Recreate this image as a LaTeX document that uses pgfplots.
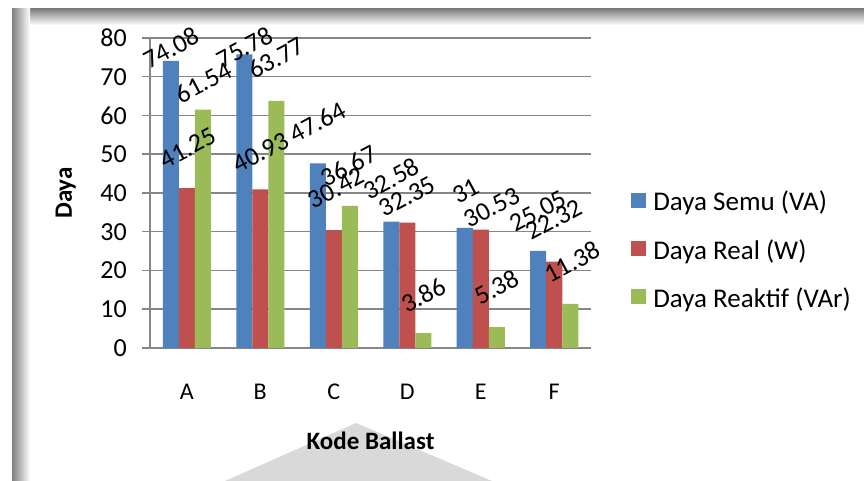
\documentclass[border=0pt]{standalone}
\usepackage{fontspec}
\setmainfont{Carlito}
\usepackage{pgfplots}
\pgfplotsset{compat=1.18}
\usepackage{pgfplotstable}

\definecolor{semu}{RGB}{79,129,189}
\definecolor{real}{RGB}{192,80,77}
\definecolor{reaktif}{RGB}{155,187,89}
\definecolor{gridgray}{RGB}{134,134,134}
\definecolor{wedge}{RGB}{217,217,217}
\definecolor{edgegray}{RGB}{128,128,128}

% power per ballast code; dx/dy are the label offsets (pt) from the bar top
\pgfplotstableread{
x semu  real  reaktif dxs dys dxr dyr dxk dyk
0 74.08 41.25 61.54   0.5 13  1   40  1   27
1 75.78 40.93 63.77   0.5 7   0.5 37  0   43
2 47.64 30.42 36.67   0   41  2.5 42  -1  40
3 32.58 32.35 3.86    0   43  0   26  0   38
4 31    30.53 5.38    1   37  11  22  0   40
5 25.05 22.32 11.38   0   40  0   42  2   42
}\ballast

\newcommand{\tickf}{\fontsize{26}{30}\selectfont}
\newcommand{\xtickf}{\fontsize{24}{28}\selectfont}
\newcommand{\legf}{\fontsize{27}{32}\selectfont}
\newcommand{\titf}{\fontsize{25}{30}\selectfont}
\newcommand{\lblf}{\fontsize{26}{30}\selectfont}

\begin{document}
\begin{tikzpicture}[x=1pt,y=1pt]
\useasboundingbox (0,0) rectangle (864,481);
\fill[white] (0,0) rectangle (864,481);
% frame shading along the top and left edges
\shade[top color=edgegray, bottom color=white] (12,456) rectangle (864,472);
\shade[left color=edgegray, right color=white] (12,0) rectangle (30,472);
\fill[white] (30,0) rectangle (864,456);
% light wedge behind the axis title
\fill[wedge] (225,0) -- (356,58) -- (492,0) -- cycle;

\begin{axis}[
  at={(150pt,133pt)}, anchor=south west,
  width=441pt, height=310pt, scale only axis,
  xmin=-0.5, xmax=5.5, ymin=0, ymax=80,
  ybar=0pt, bar width=16pt,
  xtick=data, xticklabels={A,B,C,D,E,F},
  ytick={0,10,...,80},
  axis x line*=bottom, axis y line*=left,
  axis line style={gridgray, line width=1.5pt},
  ymajorgrids, grid style={gridgray, line width=1.5pt},
  ytick style={gridgray, line width=1.5pt},
  xtick style={draw=none},
  tick align=outside, major tick length=8pt,
  /pgf/number format/assume math mode=true,
  yticklabel={\tickf\pgfmathprintnumber{\tick}},
  yticklabel style={anchor=east, inner sep=0pt, xshift=-15pt},
  xticklabel style={anchor=base, inner sep=0pt, yshift=-44pt, font=\xtickf},
  xlabel={\textbf{Kode Ballast}},
  xlabel style={at={(axis description cs:0.5,-0.329)}, anchor=base, font=\titf},
  ylabel={\textbf{Daya}},
  ylabel style={at={(axis description cs:-0.177,0.5)}, anchor=base, font=\titf},
  clip=false,
  point meta=explicit symbolic,
  nodes near coords={\lblf\pgfplotspointmeta},
  legend style={at={(axis description cs:1.091,0.316)}, anchor=west,
    draw=none, fill=none, inner sep=0pt, font=\legf, row sep=27pt,
    nodes={inner sep=0pt}},
  legend cell align=left,
  sq/.style={legend image code/.code={%
    \fill[##1] (0pt,-6pt) rectangle (15pt,9pt);
    \path (22pt,0pt);}},
]
\addplot[fill=semu, draw=none, sq,
  visualization depends on={\thisrow{dxs} \as \dx},
  visualization depends on={\thisrow{dys} \as \dy},
  every node near coord/.append style={inner sep=0pt, anchor=center,
    xshift=\dx pt, yshift=\dy pt, rotate=28}]
  table[x=x, y=semu, meta=semu] {\ballast};
\addplot[fill=real, draw=none, sq,
  visualization depends on={\thisrow{dxr} \as \dx},
  visualization depends on={\thisrow{dyr} \as \dy},
  every node near coord/.append style={inner sep=0pt, anchor=center,
    xshift=\dx pt, yshift=\dy pt, rotate=28}]
  table[x=x, y=real, meta=real] {\ballast};
\addplot[fill=reaktif, draw=none, sq,
  visualization depends on={\thisrow{dxk} \as \dx},
  visualization depends on={\thisrow{dyk} \as \dy},
  every node near coord/.append style={inner sep=0pt, anchor=center,
    xshift=\dx pt, yshift=\dy pt, rotate=28}]
  table[x=x, y=reaktif, meta=reaktif] {\ballast};
\legend{Daya Semu (VA), Daya Real (W), Daya Reaktif (VAr)}
\end{axis}
\end{tikzpicture}
\end{document}
